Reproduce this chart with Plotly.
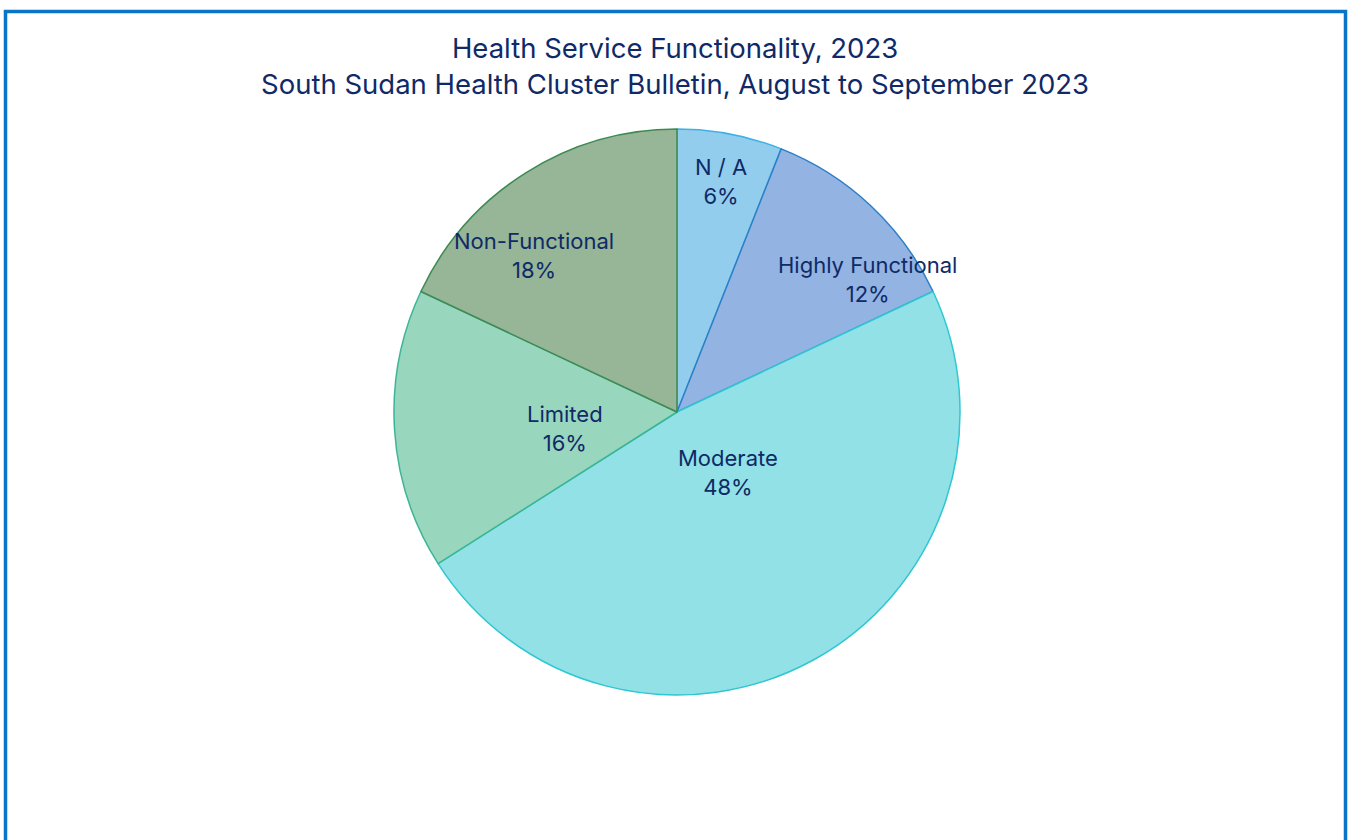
import math
import plotly.graph_objects as go

# Health service functionality shares (percent)
categories = ["N / A", "Highly Functional", "Moderate", "Limited", "Non-Functional"]
shares = [6, 12, 48, 16, 18]

fill_colors = ["#93cdee", "#93b3e2", "#91e1e6", "#98d6be", "#97b597"]
edge_colors = ["#3cb2e4", "#2b7fc7", "#2ec7d2", "#3cb596", "#3d8a52"]

# Label placement inside each slice: fraction of radius and angular nudge (deg)
label_radius = [0.83, 0.82, 0.28, 0.40, 0.75]
label_nudge = [0, 12, -11, -5, -10]

W, H = 1351, 840
cx, cy, r = 677, 412, 283
font_family = "Inter, Lato, sans-serif"
text_color = "#0f2a66"

fig = go.Figure(
    go.Pie(
        labels=categories,
        values=shares,
        sort=False,
        direction="clockwise",
        rotation=0,
        marker=dict(colors=fill_colors, line=dict(color=edge_colors, width=1.5)),
        textinfo="none",
        showlegend=False,
        hoverinfo="label+percent",
        domain=dict(x=[(cx - r) / W, (cx + r) / W], y=[(H - cy - r) / H, (H - cy + r) / H]),
    )
)

# Slice labels placed at each slice's mid-angle
total = sum(shares)
annotations = []
cum = 0
for name, val, rf, nudge in zip(categories, shares, label_radius, label_nudge):
    mid = (cum + val / 2) / total * 360 + nudge
    cum += val
    a = math.radians(mid)
    px = cx + rf * r * math.sin(a)
    py = cy - rf * r * math.cos(a)
    annotations.append(
        dict(
            text=f"{name}<br>{round(val / total * 100)}%",
            x=px / W, y=(H - py) / H, xref="paper", yref="paper",
            xanchor="center", yanchor="middle", showarrow=False,
            font=dict(family=font_family, size=22, color=text_color),
        )
    )

annotations.append(
    dict(
        text="Health Service Functionality, 2023<br>South Sudan Health Cluster Bulletin, August to September 2023",
        x=675 / W, y=(H - 66) / H, xref="paper", yref="paper",
        xanchor="center", yanchor="middle", showarrow=False,
        font=dict(family=font_family, size=27.5, color=text_color),
    )
)

fig.update_layout(
    width=W,
    height=H,
    margin=dict(l=0, r=0, t=0, b=0),
    paper_bgcolor="white",
    plot_bgcolor="white",
    annotations=annotations,
    shapes=[
        dict(
            type="rect", xref="paper", yref="paper",
            x0=5.5 / W, x1=1345.5 / W, y0=-0.02, y1=(H - 11.5) / H,
            line=dict(color="#0a74c6", width=3.5), fillcolor="rgba(0,0,0,0)",
        )
    ],
)

fig.write_html("out.html")
